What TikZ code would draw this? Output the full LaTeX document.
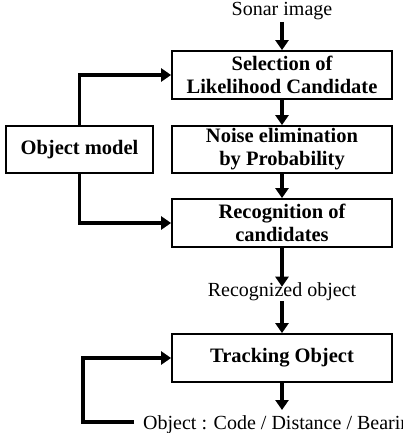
\documentclass[tikz,border=0pt]{standalone}
\usepackage{fontspec}
\setmainfont{Liberation Serif}
\usetikzlibrary{arrows.meta}
\begin{document}
\begin{tikzpicture}[x=1pt,y=-1pt,
  stepbox/.style={draw, line width=1.8pt, minimum width=220pt, minimum height=48pt, inner sep=0pt, align=center, font=\fontsize{20.5}{23}\selectfont\bfseries},
  plain/.style={font=\fontsize{20}{23}\selectfont, inner sep=2pt},
  flow/.style={line width=3.5pt, -{Triangle[width=13pt,length=10pt]}}
]
\useasboundingbox (0,0) rectangle (403,433);
\clip (0,0) rectangle (403,433);
\node[plain] (sonar) at (282,11) {Sonar image};
\node[stepbox] (b1) at (282,75) {Selection of\\Likelihood Candidate};
\node[stepbox, minimum height=47pt] (b2) at (282,149.5) {Noise elimination\\by Probability};
\node[stepbox, minimum width=147pt, minimum height=47pt] (om) at (79.5,149.5) {Object model};
\node[stepbox] (b3) at (282,223) {Recognition of\\candidates};
\node[plain] (rec) at (282,292) {Recognized object};
\node[stepbox] (b4) at (282,358) {Tracking Object};
\node[plain, anchor=west, inner sep=0pt] (out) at (143,425) {Object : Code / Distance / Bearing};
\coordinate (outleft) at (134,422);
\draw[flow] (sonar.south) -- (b1.north);
\draw[flow] (b1.south) -- (b2.north);
\draw[flow] (b2.south) -- (b3.north);
\draw[flow] (b3.south) -- ([yshift=-6pt]rec.north);
\draw[flow] ([yshift=2pt]rec.south) -- (b4.north);
\draw[flow] (b4.south) -- (b4.south |- 0,410);
\draw[flow, line join=miter] (om.north) |- (b1.west);
\draw[flow, line join=miter] (om.south) |- (b3.west);
\draw[flow, line join=miter] (outleft) -- ++(-51,0) |- (b4.west);
\end{tikzpicture}
\end{document}
